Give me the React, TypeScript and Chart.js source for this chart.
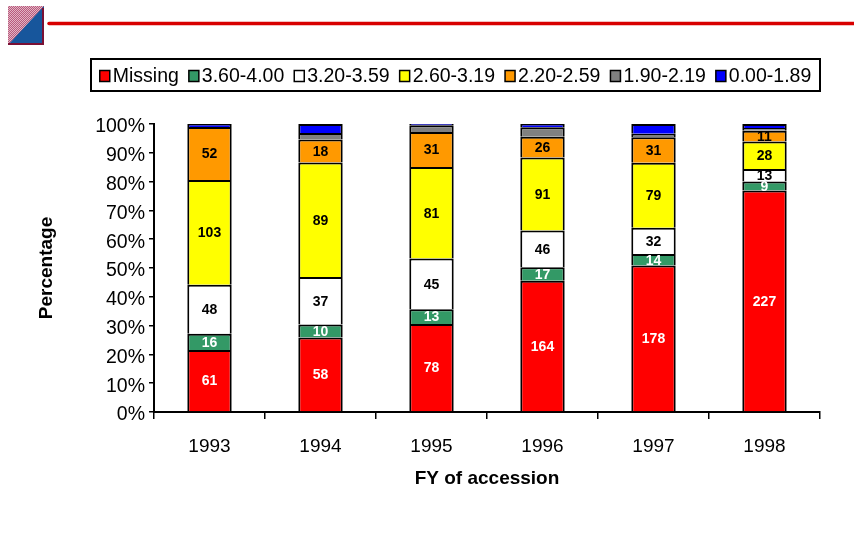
import React, { useEffect, useRef } from "react";
import { Chart, registerables } from "chart.js";

Chart.register(...registerables);

// ---- data ----
const years = ["1993", "1994", "1995", "1996", "1997", "1998"];
const seriesNames = ["Missing", "3.60-4.00", "3.20-3.59", "2.60-3.19", "2.20-2.59", "1.90-2.19", "0.00-1.89"];
const missing = [61, 58, 78, 164, 178, 227];
const gpa360to400 = [16, 10, 13, 17, 14, 9];
const gpa320to359 = [48, 37, 45, 46, 32, 13];
const gpa260to319 = [103, 89, 81, 91, 79, 28];
const gpa220to259 = [52, 18, 31, 26, 31, 11];
const gpa190to219 = [0, 5, 6, 12, 4, 3];
const gpa000to189 = [3, 7, 1, 4, 12, 4];
const labelledSeries = [true, true, true, true, true, false, false];

const seriesColors = ["#FF0000", "#339966", "#FFFFFF", "#FFFF00", "#FF9900", "#808080", "#0000FF"];
const labelColors = ["#FFFFFF", "#FFFFFF", "#000000", "#000000", "#000000", "#000000", "#000000"];

const FONT = "'Liberation Sans', Arial, Helvetica, sans-serif";

const allCounts = [missing, gpa360to400, gpa320to359, gpa260to319, gpa220to259, gpa190to219, gpa000to189];

const decorPlugin = {
  id: "decor",
  beforeDraw(chart: any) {
    const ctx = chart.ctx as CanvasRenderingContext2D;
    ctx.save();
    ctx.fillStyle = "#FFFFFF";
    ctx.fillRect(0, 0, chart.width, chart.height);
    // logo: hatched mauve upper-left, blue lower-right
    const pc = document.createElement("canvas");
    pc.width = 2;
    pc.height = 2;
    const p = pc.getContext("2d")!;
    p.fillStyle = "#b85a7c";
    p.fillRect(0, 0, 2, 2);
    p.fillStyle = "#e2b4c4";
    p.fillRect(0, 0, 1, 1);
    p.fillRect(1, 1, 1, 1);
    const pat = ctx.createPattern(pc, "repeat");
    ctx.fillStyle = pat || "#c07090";
    ctx.fillRect(8, 6, 36, 39);
    ctx.fillStyle = "#17569c";
    ctx.beginPath();
    ctx.moveTo(44, 6);
    ctx.lineTo(44, 45);
    ctx.lineTo(8, 45);
    ctx.closePath();
    ctx.fill();
    ctx.fillStyle = "#7a1034";
    ctx.fillRect(8, 43, 36, 2);
    ctx.fillRect(42, 8, 2, 37);
    // red rule
    ctx.strokeStyle = "#D80000";
    ctx.lineWidth = 3.5;
    ctx.lineCap = "round";
    ctx.beginPath();
    ctx.moveTo(49, 23.5);
    ctx.lineTo(chart.width, 23.5);
    ctx.stroke();
    ctx.restore();
  },
  afterDraw(chart: any) {
    const ctx = chart.ctx as CanvasRenderingContext2D;
    ctx.save();
    // legend frame
    const bx = 91, by = 59, bw = 729, bh = 32;
    ctx.strokeStyle = "#000";
    ctx.lineWidth = 2;
    ctx.strokeRect(bx, by, bw, bh);
    ctx.font = `19.5px ${FONT}`;
    ctx.textBaseline = "middle";
    const boxW = 10, boxH = 11, gap = 3, itemGap = 10;
    const widths = seriesNames.map((n) => ctx.measureText(n).width);
    const total = widths.reduce((a, w) => a + boxW + gap + w, 0) + itemGap * (seriesNames.length - 1);
    let x = bx + (bw - total) / 2;
    const cy = by + bh / 2 + 2;
    seriesNames.forEach((n, i) => {
      ctx.fillStyle = seriesColors[i];
      ctx.fillRect(x, cy - boxH / 2 - 1, boxW, boxH);
      ctx.strokeStyle = "#000";
      ctx.lineWidth = 1.5;
      ctx.strokeRect(x, cy - boxH / 2 - 1, boxW, boxH);
      x += boxW + gap;
      ctx.fillStyle = "#000";
      ctx.textAlign = "left";
      ctx.fillText(n, x, cy);
      x += widths[i] + itemGap;
    });
    ctx.restore();
  },
  afterDatasetsDraw(chart: any) {
    const ctx = chart.ctx as CanvasRenderingContext2D;
    ctx.save();
    ctx.font = `bold 14px ${FONT}`;
    ctx.textAlign = "center";
    ctx.textBaseline = "middle";
    chart.data.datasets.forEach((ds: any, di: number) => {
      if (!labelledSeries[di]) return;
      const meta = chart.getDatasetMeta(di);
      meta.data.forEach((el: any, i: number) => {
        const c = allCounts[di][i];
        if (!c) return;
        const yc = (el.y + el.base) / 2;
        ctx.fillStyle = labelColors[di];
        ctx.fillText(String(c), el.x, yc + 1);
      });
    });
    ctx.restore();
  },
};

export default function App() {
  const ref = useRef<HTMLCanvasElement | null>(null);
  useEffect(() => {
    if (!ref.current) return;
    const totals = years.map((_, i) => allCounts.reduce((s, arr) => s + arr[i], 0));
    const datasets = allCounts.map((arr, di) => ({
      label: seriesNames[di],
      data: arr.map((v, i) => (v / totals[i]) * 100),
      backgroundColor: seriesColors[di],
      borderColor: "#000000",
      borderWidth: 2,
      categoryPercentage: 1,
      barPercentage: 0.4,
    }));
    const chart = new Chart(ref.current, {
      type: "bar",
      data: { labels: years, datasets },
      options: {
        animation: false,
        responsive: false,
        devicePixelRatio: 1,
        layout: { padding: { top: 124, right: 34, bottom: 0, left: 0 } },
        plugins: { legend: { display: false }, tooltip: { enabled: false }, title: { display: false } },
        scales: {
          x: {
            stacked: true,
            grid: { display: true, drawOnChartArea: false, drawTicks: true, tickLength: 7, color: "#000", lineWidth: 1.5, offset: true },
            border: { display: true, color: "#000", width: 2 },
            ticks: { color: "#000", font: { family: FONT, size: 19 }, padding: 16, maxRotation: 0 },
            title: { display: true, text: "FY of accession", color: "#000", font: { family: FONT, size: 19, weight: "bold" }, padding: { top: 0, bottom: 58 } },
            afterFit: (s: any) => { s.height = 548 - 412; },
          },
          y: {
            stacked: true,
            min: 0,
            max: 100,
            ticks: { stepSize: 10, color: "#000", font: { family: FONT, size: 19.5 }, padding: 4, labelOffset: 3, callback: (v: any) => `${v}%` },
            grid: { display: true, drawOnChartArea: false, drawTicks: true, tickLength: 5, color: "#000", lineWidth: 1.5 },
            border: { display: true, color: "#000", width: 2 },
            title: { display: true, text: "Percentage", color: "#000", font: { family: FONT, size: 19, weight: "bold" }, padding: { top: 35, bottom: 0 } },
            afterFit: (s: any) => { s.width = 154; },
          },
        },
      },
      plugins: [decorPlugin],
    } as any);
    return () => chart.destroy();
  }, []);
  return (
    <div style={{ position: "absolute", left: 0, top: 0, width: 854, height: 548, background: "#fff" }}>
      <canvas ref={ref} width={854} height={548} />
    </div>
  );
}
